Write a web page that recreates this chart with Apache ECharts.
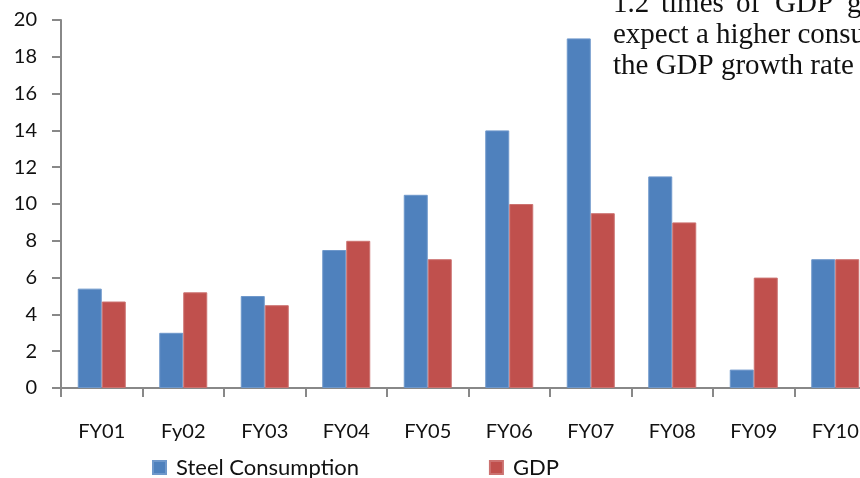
<!DOCTYPE html>
<html>
<head>
<meta charset="utf-8">
<style>
  html, body { margin: 0; padding: 0; background: #fff; overflow: hidden; width: 860px; height: 478px; }
  #chart { width: 880px; height: 478px; }
</style>
<script src="https://cdn.jsdelivr.net/npm/echarts@6/dist/echarts.min.js"></script>
</head>
<body>
<div id="chart"></div>
<script>
// Fiscal years on the category axis
const years = ['FY01', 'Fy02', 'FY03', 'FY04', 'FY05', 'FY06', 'FY07', 'FY08', 'FY09', 'FY10'];
// Growth rates, %
const steelConsumption = [5.4, 3, 5, 7.5, 10.5, 14, 19, 11.5, 1, 7];
const gdp = [4.7, 5.2, 4.5, 8, 7, 10, 9.5, 9, 6, 7];
// Value axis ticks
const yTicks = { min: 0, max: 20, interval: 2 };

// Paragraph text running beside the chart (word pieces of the justified first line)
const noteLine1 = [['1.2', 613], ['times', 661], ['of', 736], ['GDP', 775], ['g', 847]];
const noteLine2 = 'expect a higher consu';
const noteLine3 = 'the GDP growth rate';

const axisGrey = '#888888';
const labelFont = 'Lato, "Liberation Sans", sans-serif';
const serif = '"Liberation Serif", "DejaVu Serif", serif';
const noteFont = '29px ' + serif;

// The canvas is slightly wider than the viewport, so the last group runs off the right edge
const chart = echarts.init(document.getElementById('chart'), null, { renderer: 'canvas' });

const noteGraphics = [];
noteLine1.forEach(([w, x]) => {
  noteGraphics.push({ type: 'text', left: x, top: -10, style: { text: w, font: noteFont, fill: '#111' } });
});
noteGraphics.push({ type: 'text', left: 613, top: 21, style: { text: noteLine2, font: noteFont, fill: '#111' } });
noteGraphics.push({ type: 'text', left: 613, top: 52, style: { text: noteLine3, font: noteFont, fill: '#111' } });

chart.setOption({
  animation: false,
  backgroundColor: '#ffffff',
  grid: { left: 61, top: 20, right: 4, bottom: 90, containLabel: false },
  legend: {
    data: ['Steel Consumption', 'GDP'],
    left: 152,
    top: 455,
    padding: 0,
    itemWidth: 13,
    itemHeight: 13,
    itemGap: 130,
    icon: 'rect',
    textStyle: { fontFamily: labelFont, fontSize: 22, lineHeight: 25, color: '#111', padding: [0, 0, 0, 5] }
  },
  xAxis: {
    type: 'category',
    data: years,
    axisLine: { lineStyle: { color: axisGrey, width: 2 } },
    axisTick: { show: true, length: 9, alignWithLabel: false, lineStyle: { color: axisGrey, width: 2 } },
    axisLabel: { margin: 34, fontFamily: labelFont, fontSize: 20, color: '#111' }
  },
  yAxis: {
    type: 'value',
    min: yTicks.min,
    max: yTicks.max,
    interval: yTicks.interval,
    axisLine: { show: true, lineStyle: { color: axisGrey, width: 2 } },
    axisTick: { show: true, length: 9, lineStyle: { color: axisGrey, width: 2 } },
    splitLine: { show: false },
    axisLabel: { margin: 24, fontFamily: labelFont, fontSize: 20, color: '#111' }
  },
  series: [
    {
      name: 'Steel Consumption',
      type: 'bar',
      data: steelConsumption,
      barWidth: 24,
      barGap: '0%',
      itemStyle: { color: '#4F81BD', borderColor: '#6f98cb', borderWidth: 1 }
    },
    {
      name: 'GDP',
      type: 'bar',
      data: gdp,
      barWidth: 24,
      barGap: '0%',
      itemStyle: { color: '#C0504D', borderColor: '#cc7270', borderWidth: 1 }
    }
  ],
  graphic: noteGraphics
});
</script>
</body>
</html>
